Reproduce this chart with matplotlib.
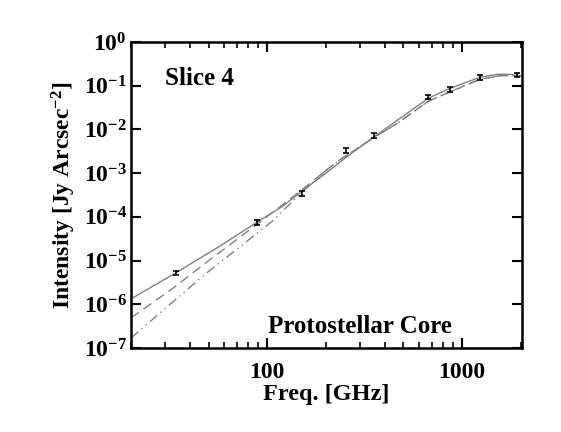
import math
import matplotlib
matplotlib.use('Agg')
import matplotlib.pyplot as plt
from matplotlib.ticker import FixedLocator, NullLocator, LogLocator, FuncFormatter

plt.rcParams['font.family'] = 'Liberation Serif'
plt.rcParams['font.weight'] = 'bold'
plt.rcParams['mathtext.fontset'] = 'custom'
plt.rcParams['mathtext.rm'] = 'Liberation Serif:bold'
plt.rcParams['mathtext.bf'] = 'Liberation Serif:bold'
plt.rcParams['mathtext.it'] = 'Liberation Serif:bold'

# measured points
freq = [34, 89, 151, 253, 354, 670, 870, 1235, 1920]
flux = [5.2e-6, 7.4e-5, 3.4e-4, 3.3e-3, 7.3e-3, 0.055, 0.083, 0.153, 0.176]
err_frac = 0.12

# model curves
solid_x = [20, 34, 57, 88, 120, 151, 200, 254, 354, 464, 670, 867, 1236, 1510, 1760, 2000]
solid_y = [1.33e-6, 5.25e-6, 2.13e-5, 7.4e-5, 1.75e-4, 3.9e-4, 1.0e-3, 2.3e-3, 6.8e-3,
           0.0161, 0.0514, 0.087, 0.156, 0.182, 0.182, 0.164]

dash_x = [20, 32, 50, 88, 120, 153, 200, 237, 354, 464, 670, 880, 1236, 1570, 2000]
dash_y = [4.9e-7, 2.14e-6, 9.9e-6, 6.6e-5, 1.9e-4, 4.4e-4, 1.15e-3, 2.05e-3, 6.6e-3,
          0.0137, 0.0439, 0.0745, 0.140, 0.170, 0.170]

dashdot_x = [20, 29, 49, 77, 107, 153, 200, 237, 354, 464, 670, 880, 1236, 1570, 2000]
dashdot_y = [1.69e-7, 7.1e-7, 5.25e-6, 2.56e-5, 8.2e-5, 3.9e-4, 1.15e-3, 2.05e-3, 6.6e-3,
             0.0137, 0.0439, 0.0745, 0.140, 0.170, 0.170]

fig = plt.figure(figsize=(5.61, 4.32), dpi=100)
ax = fig.add_axes([0.2335, 0.1944, 0.697, 0.7084])

grey = '#808080'
ax.plot(solid_x, solid_y, color=grey, lw=1.0, ls='-')
ax.plot(dash_x, dash_y, color=grey, lw=1.0, ls=(0, (7, 4)))
ax.plot(dashdot_x, dashdot_y, color=grey, lw=1.0, ls=(0, (7, 3, 1, 3, 1, 3)))

ax.errorbar(freq, flux, yerr=[f * err_frac for f in flux], fmt='none',
            ecolor='black', elinewidth=1.2, capsize=2, capthick=1.2)

ax.set_xscale('log')
ax.set_yscale('log')
ax.set_xlim(20, 2030)
ax.set_ylim(1e-7, 1e0)

ax.xaxis.set_major_locator(FixedLocator([100, 1000]))
ax.xaxis.set_minor_locator(LogLocator(base=10, subs=range(2, 10), numticks=20))
ax.xaxis.set_major_formatter(FuncFormatter(lambda v, p: '%d' % v))
ax.xaxis.set_minor_formatter(FuncFormatter(lambda v, p: ''))
ax.yaxis.set_major_locator(FixedLocator([10.0 ** k for k in range(-7, 1)]))
ax.yaxis.set_minor_locator(NullLocator())
ax.yaxis.set_major_formatter(FuncFormatter(lambda v, p: r'$\mathregular{10^{%d}}$' % round(math.log10(v))))

ax.tick_params(which='both', direction='in', top=True, right=True, labelsize=17, width=1.5)
ax.tick_params(which='major', length=7)
ax.tick_params(axis='x', which='major', pad=10)
ax.tick_params(axis='y', which='major', pad=3)
ax.tick_params(which='minor', length=4, width=1.2)
for s in ax.spines.values():
    s.set_linewidth(1.8)

ax.set_xlabel('Freq. [GHz]', fontsize=17.5, fontweight='bold', labelpad=1)
ax.set_ylabel(r'Intensity [Jy Arcsec$^{\mathregular{-2}}$]', fontsize=17, fontweight='bold', labelpad=4)

ax.text(0.087, 0.882, 'Slice 4', transform=ax.transAxes, fontsize=18,
        fontweight='bold', va='center', ha='left')
ax.text(0.586, 0.069, 'Protostellar Core', transform=ax.transAxes, fontsize=18,
        fontweight='bold', va='center', ha='center')

fig.savefig('out.png', dpi=100)
